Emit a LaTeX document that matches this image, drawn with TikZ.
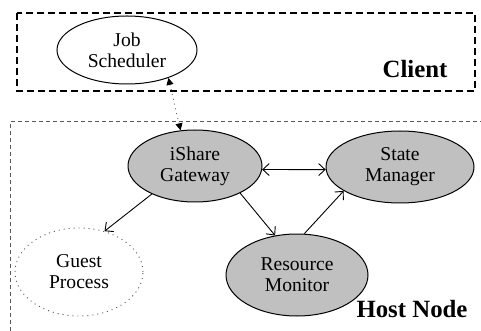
\documentclass[tikz,border=0pt]{standalone}
\usepackage{fontspec}
\setmainfont{Liberation Serif}
\newfontfamily\labelfont{Liberation Serif}
\usetikzlibrary{arrows.meta,shapes.geometric}

\definecolor{procgray}{RGB}{192,192,192}
\definecolor{framegray}{RGB}{90,90,90}

\tikzset{
  proc/.style={ellipse, draw=black, line width=0.5pt, fill=procgray, inner sep=0pt,
    align=center, font=\labelfont\fontsize{9.8}{10.6}\selectfont},
  plainproc/.style={proc, fill=white},
  guestproc/.style={proc, fill=white, draw=framegray, dotted, line width=0.45pt},
  link/.style={line width=0.45pt, -{Straight Barb[length=3.2pt,width=6pt]}},
  duallink/.style={line width=0.45pt, {Straight Barb[length=3.2pt,width=6pt]}-{Straight Barb[length=3.2pt,width=6pt]}},
  remote/.style={draw=framegray, dotted, line width=0.45pt,
    {Triangle[length=3.5pt,width=3.5pt,fill=black,color=black]}-{Triangle[length=3.5pt,width=3.5pt,fill=black,color=black]}},
  boxlabel/.style={font=\labelfont\fontsize{12.4}{14}\selectfont\bfseries, inner sep=0pt},
}

\begin{document}
\begin{tikzpicture}[x=0.5pt, y=-0.5pt]
  \useasboundingbox (0,0) rectangle (481,331);

  % client frame
  \draw[line width=0.9pt, dash pattern=on 3.5pt off 2pt] (17,13) rectangle (475,91);
  \node[boxlabel] (client) at (415,69) {Client};

  % host node frame (runs off the lower and right edges)
  \draw[draw=framegray, line width=0.5pt, dash pattern=on 2pt off 1.5pt] (10,331) -- (10,122) -- (481,122);
  \node[boxlabel] (host) at (412,309) {Host Node};

  % processes
  \node[plainproc, minimum width=70pt, minimum height=34pt] (job) at (127,50) {Job\\Scheduler};
  \node[proc, minimum width=67pt, minimum height=36pt] (gw) at (195,166) {iShare\\Gateway};
  \node[proc, minimum width=74pt, minimum height=36pt] (sm) at (400,167) {State\\Manager};
  \node[proc, minimum width=71pt, minimum height=41pt] (rm) at (297,275) {Resource\\Monitor};
  \node[guestproc, minimum width=64pt, minimum height=44pt] (gp) at (79,272) {Guest\\Process};

  % connectors
  \draw[remote] (job.326) -- (gw.112);
  \draw[duallink] (gw.-3) -- (sm.182);
  \draw[link] (gw.213) -- (gp.58);
  \draw[link] (gw.329) -- (rm.119);
  \draw[link] (rm.80) -- (sm.203);
\end{tikzpicture}
\end{document}
